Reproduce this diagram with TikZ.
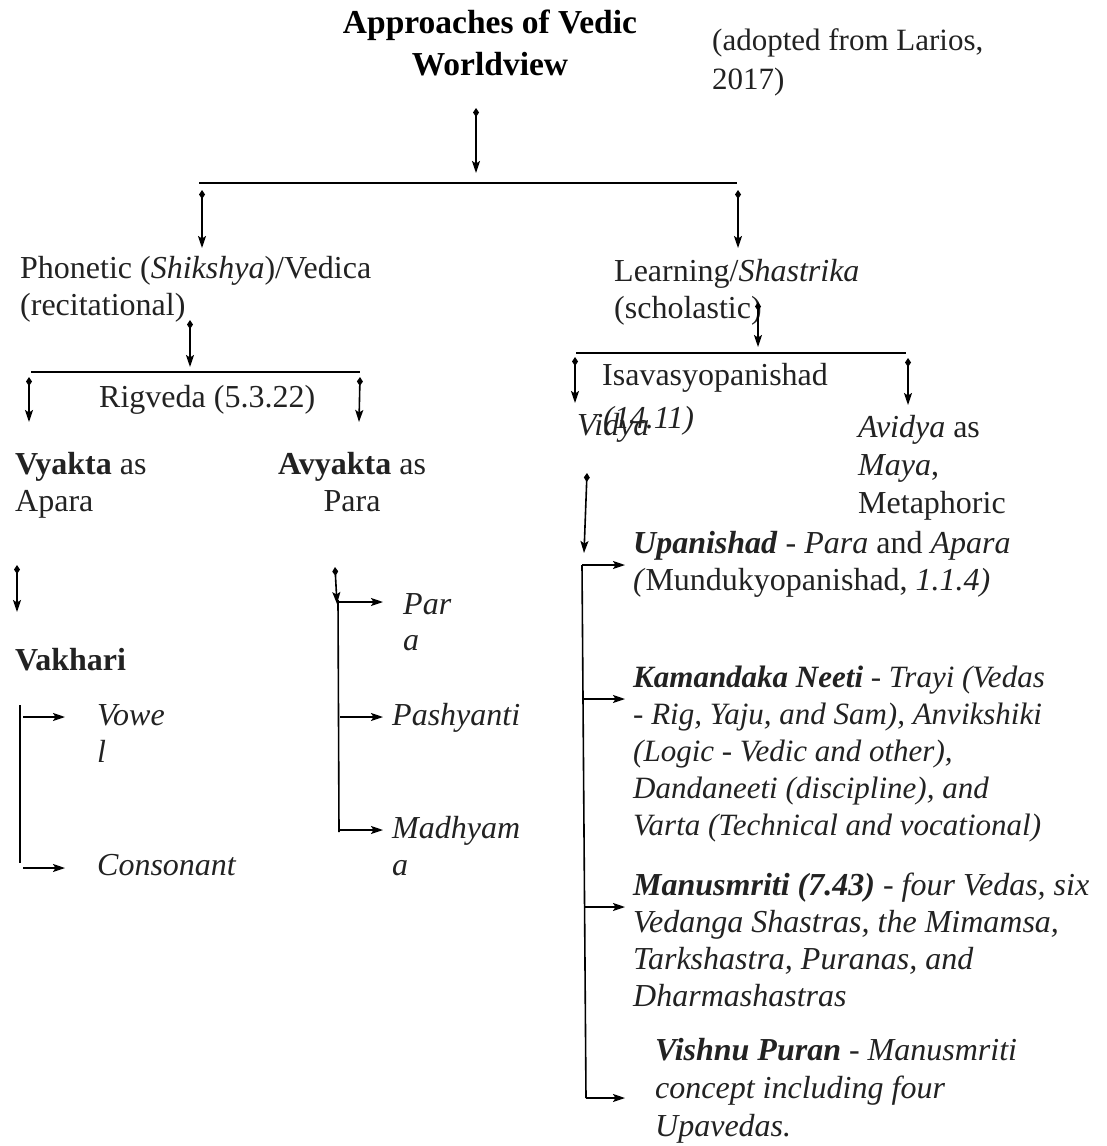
\documentclass[tikz,border=0pt]{standalone}
\usepackage{fontspec}
\setmainfont{Liberation Serif}
\usetikzlibrary{arrows.meta}
\definecolor{ink}{HTML}{222222}
\begin{document}
\begin{tikzpicture}[x=1pt,y=-1pt,
  txt/.style={anchor=base west, inner sep=0pt, align=left, text=ink, font=\fontsize{32}{37}\selectfont},
  conn/.style={line width=1.6pt, {Diamond[length=9pt,width=6pt]}-{Stealth[length=12pt,width=8pt,inset=2.5pt]}},
  harr/.style={line width=1.6pt, -{Stealth[length=12pt,width=8pt,inset=2.5pt]}},
  bar/.style={line width=1.6pt}]
\useasboundingbox[fill=white] (0,0) rectangle (1106,1146);

% ---------- texts (base anchor = baseline of the last line) ----------
\node[txt, anchor=base, align=center, text=black, font=\fontsize{33.5}{42}\selectfont\bfseries] (title) at (490,75) {Approaches of Vedic\\Worldview};
\node[txt, font=\fontsize{31}{39}\selectfont] (src) at (712,89) {(adopted from Larios,\\2017)};
\node[txt] (phon) at (20,315) {Phonetic (\textit{Shikshya})/Vedica\\(recitational)};
\node[txt] (learn) at (614,318) {Learning/\textit{Shastrika}\\(scholastic)};
\node[txt] (rig) at (99,407) {Rigveda (5.3.22)};
\node[txt] (isa) at (602,385) {Isavasyopanishad};
\node[txt] (isanum) at (603,428) {\textit{(14.11)}};
\node[txt] (vidya) at (577,435) {\textit{Vidya}};
\node[txt, font=\fontsize{32}{38}\selectfont] (avidya) at (858,513) {\textit{Avidya} as\\\textit{Maya},\\Metaphoric};
\node[txt] (vyakta) at (15,511) {\textbf{Vyakta} as\\Apara};
\node[txt, align=center] (avyakta) at (278,511) {\textbf{Avyakta} as\\Para};
\node[txt] (vakhari) at (15,670) {\textbf{Vakhari}};
\node[txt] (vowel) at (97,762) {\textit{Vowe}\\\textit{l}};
\node[txt] (cons) at (97,875) {\textit{Consonant}};
\node[txt, font=\fontsize{32}{36}\selectfont] (para) at (403,650) {\textit{Par}\\\textit{a}};
\node[txt] (pash) at (392,725) {\textit{Pashyanti}};
\node[txt] (madh) at (392,875) {\textit{Madhyam}\\\textit{a}};
\node[txt] (upan) at (633,590) {\textbf{\textit{Upanishad}} - \textit{Para} and \textit{Apara}\\\textit{(}Mundukyopanishad, \textit{1.1.4)}};
\node[txt, font=\fontsize{31}{37}\selectfont] (kam) at (633,835) {\textbf{\textit{Kamandaka Neeti}} \textit{- Trayi (Vedas}\\\textit{- Rig, Yaju, and Sam), Anvikshiki}\\\textit{(Logic - Vedic and other),}\\\textit{Dandaneeti (discipline), and}\\\textit{Varta (Technical and vocational)}};
\node[txt] (manu) at (633,1006) {\textbf{\textit{Manusmriti (7.43)}} \textit{- four Vedas, six}\\\textit{Vedanga Shastras, the Mimamsa,}\\\textit{Tarkshastra, Puranas, and}\\\textit{Dharmashastras}};
\node[txt, font=\fontsize{32}{38}\selectfont] (vishnu) at (655,1136) {\textbf{\textit{Vishnu Puran}} \textit{- Manusmriti}\\\textit{concept including four}\\\textit{Upavedas.}};

% ---------- connector end points ----------
\coordinate (a1) at (476,108); \coordinate (a2) at (476,173);
\coordinate (h1) at (199,183); \coordinate (h2) at (737,183);
\coordinate (b1) at (202,190); \coordinate (b2) at (202,248);
\coordinate (c1) at (738,190); \coordinate (c2) at (738,248);
% phonetic branch
\coordinate (d1) at (190,320); \coordinate (d2) at (190,367);
\coordinate (h3) at (31,372);  \coordinate (h4) at (360,372);
\coordinate (e1) at (29,377);  \coordinate (e2) at (29,422);
\coordinate (f1) at (360,377); \coordinate (f2) at (359,422);
% learning branch
\coordinate (g1) at (758,302); \coordinate (g2) at (758,347);
\coordinate (h5) at (576,353); \coordinate (h6) at (906,353);
\coordinate (i1) at (575,357); \coordinate (i2) at (575,403);
\coordinate (j1) at (908,358); \coordinate (j2) at (908,405);
% vakhari
\coordinate (k1) at (17,565);  \coordinate (k2) at (17,612);
\coordinate (v1) at (20,705);  \coordinate (v2) at (20,863);
\coordinate (v3) at (23,717);  \coordinate (v4) at (65,717);
\coordinate (v5) at (23,868);  \coordinate (v6) at (65,868);
% avyakta
\coordinate (m1) at (335,567); \coordinate (m2) at (337,604);
\coordinate (m3) at (338,600); \coordinate (m4) at (339,832);
\coordinate (p1) at (339,602); \coordinate (p2) at (383,602);
\coordinate (p3) at (340,717); \coordinate (p4) at (383,717);
\coordinate (p5) at (340,830); \coordinate (p6) at (383,830);
% vidya
\coordinate (n1) at (587,473); \coordinate (n2) at (584,553);
\coordinate (n3) at (582,565); \coordinate (n4) at (586,1098);
\coordinate (q1) at (582,565); \coordinate (q2) at (625,565);
\coordinate (q3) at (583,699); \coordinate (q4) at (625,699);
\coordinate (q5) at (584,907); \coordinate (q6) at (625,907);
\coordinate (q7) at (586,1098);\coordinate (q8) at (625,1098);

% ---------- connectors ----------
\draw[conn] (a1) -- (a2);
\draw[bar] (h1) -- (h2);
\draw[conn] (b1) -- (b2);
\draw[conn] (c1) -- (c2);
\draw[conn] (d1) -- (d2);
\draw[bar] (h3) -- (h4);
\draw[conn] (e1) -- (e2);
\draw[conn] (f1) -- (f2);
\draw[conn] (g1) -- (g2);
\draw[bar] (h5) -- (h6);
\draw[conn] (i1) -- (i2);
\draw[conn] (j1) -- (j2);
\draw[conn] (k1) -- (k2);
\draw[bar] (v1) -- (v2);
\draw[harr] (v3) -- (v4);
\draw[harr] (v5) -- (v6);
\draw[conn] (m1) -- (m2);
\draw[bar] (m3) -- (m4);
\draw[harr] (p1) -- (p2);
\draw[harr] (p3) -- (p4);
\draw[harr] (p5) -- (p6);
\draw[conn] (n1) -- (n2);
\draw[bar] (n3) -- (n4);
\draw[harr] (q1) -- (q2);
\draw[harr] (q3) -- (q4);
\draw[harr] (q5) -- (q6);
\draw[harr] (q7) -- (q8);
\end{tikzpicture}
\end{document}
